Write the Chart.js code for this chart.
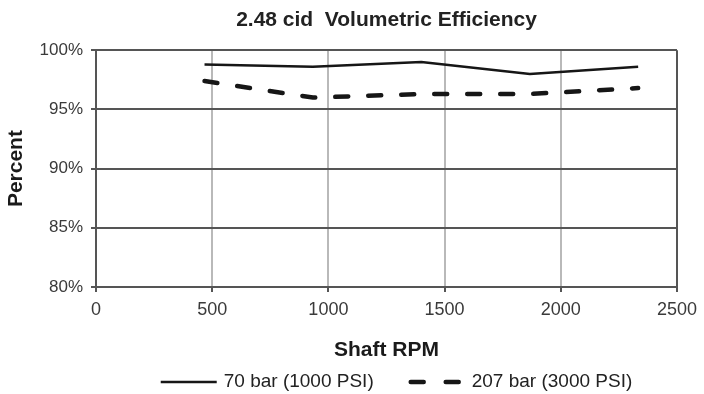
<!DOCTYPE html>
<html>
<head>
<meta charset="utf-8">
<script src="https://cdn.jsdelivr.net/npm/chart.js@4/dist/chart.umd.min.js"></script>
<style>
  html, body { margin: 0; padding: 0; background: #fff; }
  canvas { display: block; }
</style>
</head>
<body>
<canvas id="chart" width="704" height="394"></canvas>
<script>
// Volumetric efficiency of the 2.48 cid unit vs shaft speed
const rpm = [467, 933, 1400, 1867, 2333];
const eff70bar = [98.8, 98.6, 99.0, 98.0, 98.6];
const eff207bar = [97.4, 96.0, 96.3, 96.3, 96.8];
const seriesLabels = ['70 bar (1000 PSI)', '207 bar (3000 PSI)'];
const xTicks = [0, 500, 1000, 1500, 2000, 2500];
const yTicks = [80, 85, 90, 95, 100];

const FONT = '"Liberation Sans", Arial, sans-serif';
const DARK = '#555555';
const LIGHT = '#b9b9b9';

const points = (ys) => rpm.map((x, i) => ({ x, y: ys[i] }));

// line samples + labels under the axis title
const lineLegend = {
  id: 'lineLegend',
  afterDraw(chart) {
    const { ctx, chartArea } = chart;
    const sample = 56, gap = 7, spacing = 35, y = 382;
    ctx.save();
    ctx.font = '19px ' + FONT;
    const items = chart.data.datasets.map(ds => ({ ds, w: ctx.measureText(ds.label).width }));
    const total = items.reduce((s, it) => s + sample + gap + it.w, 0) + spacing * (items.length - 1);
    let x = (chartArea.left + chartArea.right) / 2 - total / 2 + 10;
    items.forEach(({ ds, w }) => {
      ctx.beginPath();
      ctx.strokeStyle = ds.borderColor;
      ctx.lineWidth = ds.borderWidth;
      ctx.lineCap = ds.borderCapStyle || 'butt';
      if (ds.borderDash && ds.borderDash.length) {
        ctx.setLineDash([13, 22]);
        ctx.moveTo(x + 2, y);
        ctx.lineTo(x + sample - 2, y);
      } else {
        ctx.setLineDash([]);
        ctx.moveTo(x, y);
        ctx.lineTo(x + sample, y);
      }
      ctx.stroke();
      ctx.setLineDash([]);
      ctx.fillStyle = '#222';
      ctx.textAlign = 'left';
      ctx.textBaseline = 'middle';
      ctx.fillText(ds.label, x + sample + gap, y);
      x += sample + gap + w + spacing;
    });
    ctx.restore();
  }
};

new Chart(document.getElementById('chart'), {
  type: 'line',
  data: {
    datasets: [{
      label: seriesLabels[0],
      data: points(eff70bar),
      borderColor: '#161616',
      borderWidth: 2.5,
      pointRadius: 0,
      tension: 0,
      fill: false
    }, {
      label: seriesLabels[1],
      data: points(eff207bar),
      borderColor: '#161616',
      borderWidth: 4.5,
      borderDash: [13, 20],
      borderCapStyle: 'round',
      pointRadius: 0,
      tension: 0,
      fill: false
    }]
  },
  options: {
    responsive: false,
    animation: false,
    layout: { padding: { left: 4, right: 25, top: 0, bottom: 0 } },
    plugins: {
      legend: { display: false },
      tooltip: { enabled: false },
      title: {
        display: true,
        text: '2.48 cid  Volumetric Efficiency',
        fullSize: false,
        color: '#222',
        font: { family: FONT, size: 21, weight: 'bold' },
        padding: { top: 8, bottom: 17 }
      }
    },
    scales: {
      x: {
        type: 'linear',
        min: 0,
        max: 2500,
        afterBuildTicks: (scale) => { scale.ticks = xTicks.map(v => ({ value: v })); },
        afterFit: (scale) => { scale.height = 107; },
        grid: {
          color: (c) => (c.tick && c.tick.value === 2500 ? DARK : LIGHT),
          lineWidth: 2,
          tickLength: 5,
          tickColor: DARK
        },
        border: { display: true, color: DARK, width: 2 },
        ticks: {
          padding: 7,
          color: '#3a3a3a',
          font: { family: FONT, size: 18 },
          maxRotation: 0,
          callback: (v) => String(v)
        },
        title: {
          display: true,
          text: 'Shaft RPM',
          color: '#1a1a1a',
          font: { family: FONT, size: 21, weight: 'bold' },
          padding: { top: 0, bottom: 31 }
        }
      },
      y: {
        min: 80,
        max: 100,
        afterBuildTicks: (scale) => { scale.ticks = yTicks.map(v => ({ value: v })); },
        afterFit: (scale) => { scale.width = 92; },
        grid: {
          color: DARK,
          lineWidth: 2,
          tickLength: 5,
          tickColor: DARK
        },
        border: { display: true, color: DARK, width: 2 },
        ticks: {
          padding: 8,
          color: '#3a3a3a',
          font: { family: FONT, size: 17 },
          callback: (v) => v + '%'
        },
        title: {
          display: true,
          text: 'Percent',
          color: '#1a1a1a',
          font: { family: FONT, size: 21, weight: 'bold' },
          padding: { top: 0, bottom: 0 }
        }
      }
    }
  },
  plugins: [lineLegend]
});
</script>
</body>
</html>
